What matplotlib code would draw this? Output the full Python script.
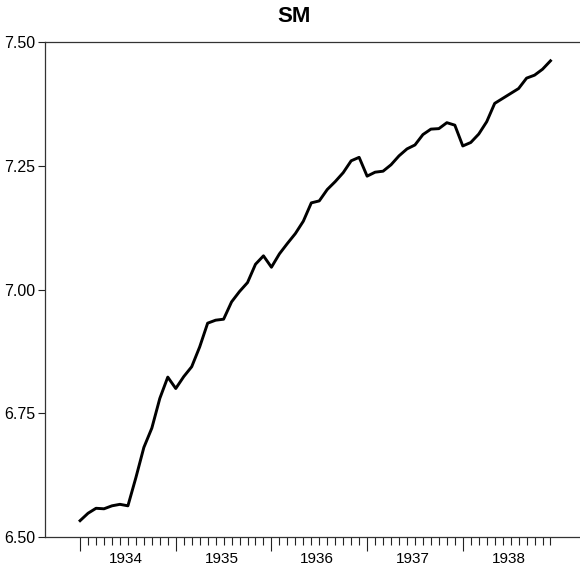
import numpy as np
import matplotlib
matplotlib.use("Agg")
import matplotlib.pyplot as plt

# monthly series, Jan 1934 .. Dec 1938
years = [1934, 1935, 1936, 1937, 1938]
sm = [6.533, 6.548, 6.558, 6.557, 6.563, 6.566, 6.563, 6.620, 6.681, 6.720, 6.780, 6.823,
      6.800, 6.824, 6.844, 6.884, 6.932, 6.938, 6.940, 6.975, 6.996, 7.014, 7.051, 7.068,
      7.045, 7.072, 7.093, 7.113, 7.138, 7.175, 7.179, 7.202, 7.218, 7.236, 7.260, 7.267,
      7.229, 7.237, 7.239, 7.252, 7.270, 7.284, 7.292, 7.313, 7.324, 7.325, 7.337, 7.332,
      7.290, 7.297, 7.314, 7.339, 7.376, 7.386, 7.396, 7.406, 7.427, 7.433, 7.445, 7.462]
yticks = [6.50, 6.75, 7.00, 7.25, 7.50]

plt.rcParams['font.family'] = ['Liberation Sans Narrow', 'Liberation Sans', 'DejaVu Sans']

months = np.arange(len(sm))

fig = plt.figure(figsize=(5.8, 5.69), dpi=100)
ax = fig.add_axes([45/580, 1-537/569, 1-45/580, (537-42)/569])
ax.plot(months, sm, color='black', linewidth=2.1)

ax.set_xlim(-4.4, 62.7)
ax.set_ylim(6.5, 7.5)
ax.set_yticks(yticks)
ax.set_yticklabels([f"{v:.2f}" for v in yticks], fontsize=11.5)

ax.set_xticks(months[::12])
ax.set_xticks(months, minor=True)
ax.set_xticklabels([])
ax.tick_params(axis='x', which='major', direction='out', length=10, width=0.8, color='#222222')
ax.tick_params(axis='x', which='minor', direction='out', length=5.5, width=0.8, color='#222222')
ax.tick_params(axis='y', direction='out', length=5, width=0.8, color='#222222', pad=2)
for i, yr in enumerate(years):
    ax.text(12*i + 5.75, -0.031, str(yr), transform=ax.get_xaxis_transform(),
            ha='center', va='top', fontsize=11)

for s in ['left', 'top', 'bottom']:
    ax.spines[s].set_color('#333333')
    ax.spines[s].set_linewidth(0.9)
ax.spines['right'].set_visible(False)

fig.text(294.5/580, 1-16/569, "SM", ha='center', va='center', fontsize=16, fontweight='bold')

fig.savefig("out.png", dpi=100)
